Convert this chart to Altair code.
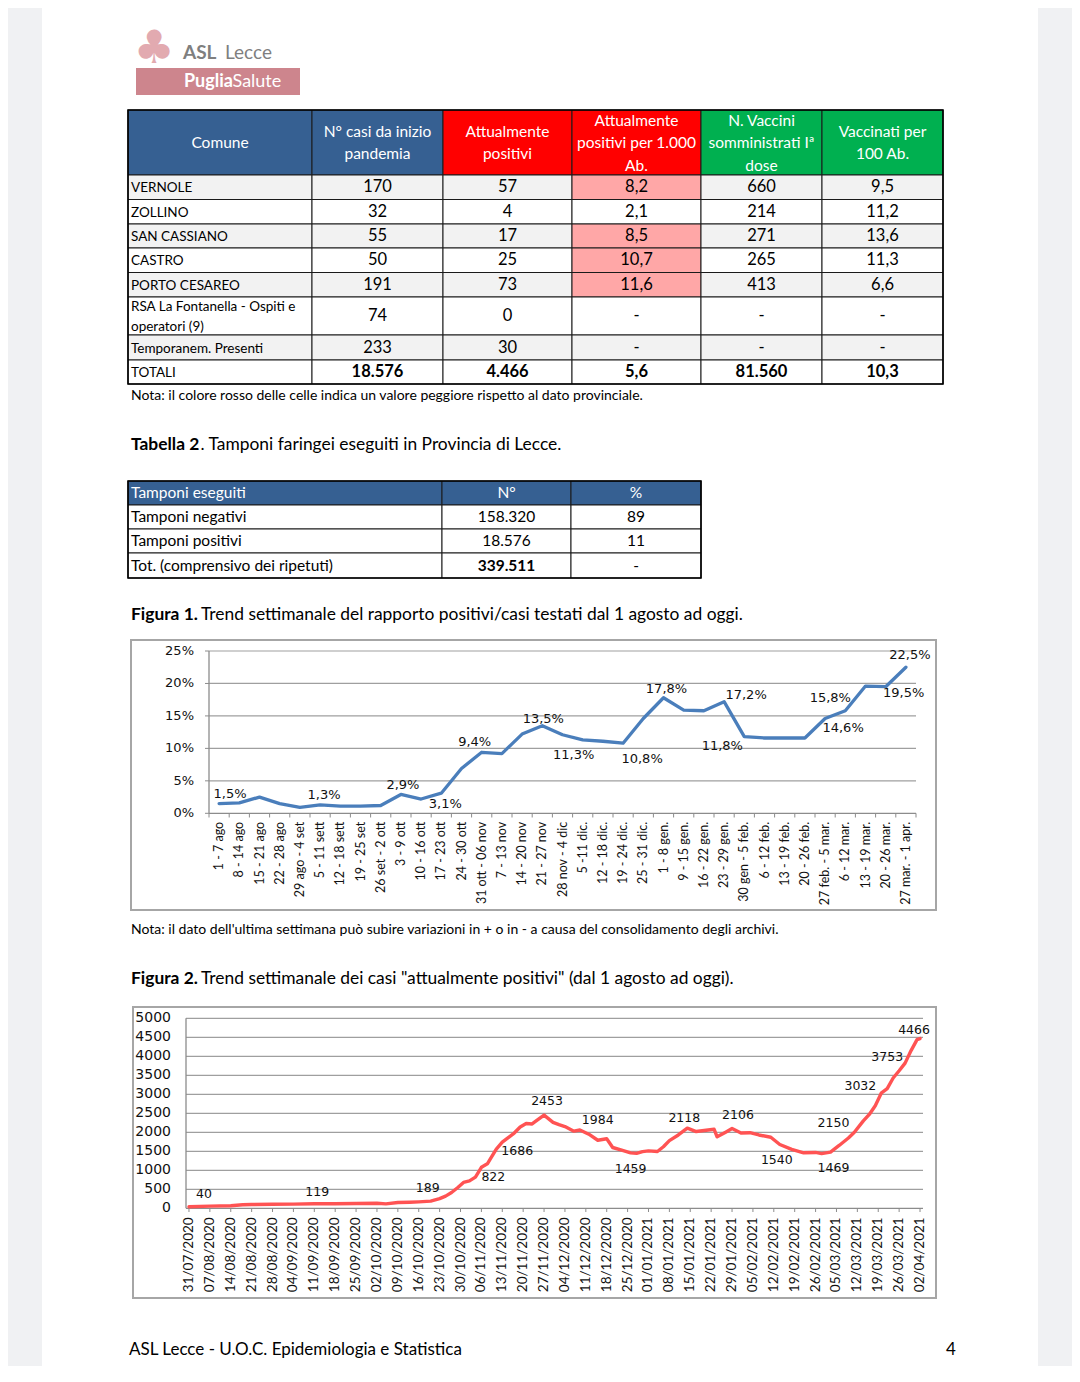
import altair as alt
import pandas as pd

# ======================= DATA =======================
t1_headers = ["Comune", "N° casi da inizio\npandemia", "Attualmente\npositivi",
              "Attualmente\npositivi per 1.000\nAb.", "N. Vaccini\nsomministrati Iª\ndose",
              "Vaccinati per\n100 Ab."]
t1_comuni = ["VERNOLE", "ZOLLINO", "SAN CASSIANO", "CASTRO", "PORTO CESAREO",
             "RSA La Fontanella - Ospiti e\noperatori (9)", "Temporanem. Presenti", "TOTALI"]
t1_casi = ["170", "32", "55", "50", "191", "74", "233", "18.576"]
t1_attuali = ["57", "4", "17", "25", "73", "0", "30", "4.466"]
t1_per1000 = ["8,2", "2,1", "8,5", "10,7", "11,6", "-", "-", "5,6"]
t1_vaccini = ["660", "214", "271", "265", "413", "-", "-", "81.560"]
t1_vacc100 = ["9,5", "11,2", "13,6", "11,3", "6,6", "-", "-", "10,3"]
t1_peggiore = [True, False, True, True, True, False, False, False]

t2_headers = ["Tamponi eseguiti", "N°", "%"]
t2_voci = ["Tamponi negativi", "Tamponi positivi", "Tot. (comprensivo dei ripetuti)"]
t2_numero = ["158.320", "18.576", "339.511"]
t2_perc = ["89", "11", "-"]

fig1_weeks = ["1 - 7 ago", "8 - 14 ago", "15 - 21 ago", "22 - 28 ago", "29 ago - 4 set",
              "5 - 11 sett", "12 - 18 sett", "19 - 25 set", "26 set - 2 ott", "3 - 9 ott",
              "10 - 16 ott", "17 - 23 ott", "24 - 30 ott", "31 ott - 06 nov", "7 - 13 nov",
              "14 - 20 nov", "21 - 27 nov", "28 nov - 4 dic", "5 -11 dic.", "12 - 18 dic.",
              "19 - 24 dic.", "25 - 31 dic.", "1 - 8 gen.", "9 - 15 gen.", "16 - 22 gen.",
              "23 - 29 gen.", "30 gen - 5 feb.", "6 - 12 feb.", "13 - 19 feb.", "20 - 26 feb.",
              "27 feb. - 5 mar.", "6 - 12 mar.", "13 - 19 mar.", "20 - 26 mar.", "27 mar. - 1 apr."]
fig1_values = [1.5, 1.6, 2.5, 1.5, 0.9, 1.3, 1.1, 1.1, 1.2, 2.9,
               2.2, 3.1, 6.9, 9.4, 9.2, 12.2, 13.5, 12.1, 11.3, 11.1,
               10.8, 14.6, 17.8, 15.9, 15.8, 17.2, 11.8, 11.6, 11.6, 11.6,
               14.6, 15.8, 19.6, 19.5, 22.5]
fig1_y_ticks = [0, 5, 10, 15, 20, 25]
fig1_y_labels = ["0%", "5%", "10%", "15%", "20%", "25%"]
fig1_label_idx = [0, 5, 9, 11, 13, 16, 18, 20, 22, 25, 26, 31, 30, 33, 34]
fig1_label_text = ["1,5%", "1,3%", "2,9%", "3,1%", "9,4%", "13,5%", "11,3%", "10,8%",
                   "17,8%", "17,2%", "11,8%", "15,8%", "14,6%", "19,5%", "22,5%"]

fig2_dates = ["2020-07-31", "2020-08-07", "2020-08-14", "2020-08-18", "2020-08-21", "2020-08-28",
              "2020-09-04", "2020-09-11", "2020-09-18", "2020-09-25", "2020-10-02", "2020-10-05",
              "2020-10-09", "2020-10-13", "2020-10-16", "2020-10-20", "2020-10-23", "2020-10-25",
              "2020-10-27", "2020-10-29", "2020-10-31", "2020-11-02", "2020-11-04", "2020-11-06",
              "2020-11-08", "2020-11-09", "2020-11-11", "2020-11-13", "2020-11-15", "2020-11-17",
              "2020-11-19", "2020-11-21", "2020-11-23", "2020-11-24", "2020-11-27", "2020-11-30",
              "2020-12-02", "2020-12-04", "2020-12-07", "2020-12-09", "2020-12-12", "2020-12-15",
              "2020-12-18", "2020-12-20", "2020-12-23", "2020-12-26", "2020-12-28", "2020-12-30",
              "2021-01-01", "2021-01-04", "2021-01-06", "2021-01-08", "2021-01-11", "2021-01-14",
              "2021-01-17", "2021-01-21", "2021-01-23", "2021-01-24", "2021-01-27", "2021-01-29",
              "2021-02-01", "2021-02-04", "2021-02-07", "2021-02-11", "2021-02-14", "2021-02-18",
              "2021-02-22", "2021-02-26", "2021-02-28", "2021-03-03", "2021-03-06", "2021-03-09",
              "2021-03-11", "2021-03-14", "2021-03-16", "2021-03-18", "2021-03-20", "2021-03-22",
              "2021-03-24", "2021-03-26", "2021-03-28", "2021-03-30", "2021-04-01", "2021-04-02"]
fig2_values = [40, 58, 68, 92, 100, 106,
               111, 119, 121, 127, 132, 116,
               152, 160, 170, 189, 255, 320,
               415, 540, 680, 720, 822, 1080,
               1170, 1300, 1560, 1740, 1860, 1980,
               2140, 2230, 2220, 2280, 2453, 2260,
               2200, 2150, 2030, 2060, 1950, 1790,
               1830, 1600, 1530, 1460, 1445, 1490,
               1510, 1495, 1620, 1780, 1930, 2110,
               2020, 2060, 2080, 1880, 2010, 2100,
               1980, 1990, 1930, 1870, 1680, 1550,
               1460, 1470, 1440, 1480, 1660, 1850,
               2000, 2300, 2470, 2700, 3030, 3150,
               3430, 3620, 3820, 4150, 4440, 4466]
fig2_y_ticks = [0, 500, 1000, 1500, 2000, 2500, 3000, 3500, 4000, 4500, 5000]
fig2_tick_labels = ["31/07/2020", "07/08/2020", "14/08/2020", "21/08/2020", "28/08/2020",
                    "04/09/2020", "11/09/2020", "18/09/2020", "25/09/2020", "02/10/2020",
                    "09/10/2020", "16/10/2020", "23/10/2020", "30/10/2020", "06/11/2020",
                    "13/11/2020", "20/11/2020", "27/11/2020", "04/12/2020", "11/12/2020",
                    "18/12/2020", "25/12/2020", "01/01/2021", "08/01/2021", "15/01/2021",
                    "22/01/2021", "29/01/2021", "05/02/2021", "12/02/2021", "19/02/2021",
                    "26/02/2021", "05/03/2021", "12/03/2021", "19/03/2021", "26/03/2021",
                    "02/04/2021"]
fig2_label_dates = ["2020-08-05", "2020-09-12", "2020-10-19", "2020-11-10", "2020-11-18",
                    "2020-11-28", "2020-12-15", "2020-12-26", "2021-01-13", "2021-01-31",
                    "2021-02-13", "2021-03-04", "2021-03-04", "2021-03-13", "2021-03-22",
                    "2021-03-31"]
fig2_label_values = [40, 119, 189, 822, 1686, 2453, 1984, 1459, 2118, 2106, 1540, 1469,
                     2150, 3032, 3753, 4466]

txt_logo_a, txt_logo_b = "ASL", "Lecce"
txt_logo_c, txt_logo_d = "Puglia", "Salute"
txt_nota1 = "Nota: il colore rosso delle celle indica un valore peggiore rispetto al dato provinciale."
txt_tab2_b, txt_tab2 = "Tabella 2", ". Tamponi faringei eseguiti in Provincia di Lecce."
txt_fig1_b, txt_fig1 = "Figura 1.", "Trend settimanale del rapporto positivi/casi testati dal 1 agosto ad oggi."
txt_nota2 = ("Nota: il dato dell'ultima settimana può subire variazioni in + o in - "
             "a causa del consolidamento degli archivi.")
txt_fig2_b, txt_fig2 = "Figura 2.", "Trend settimanale dei casi \"attualmente positivi\" (dal 1 agosto ad oggi)."
txt_footer, txt_page = "ASL Lecce - U.O.C. Epidemiologia e Statistica", "4"

# ======================= LAYOUT / STYLE =======================
FONT = "Lato"
FIG_FONT = "DejaVu Sans"
PAGE_W = 816
SHEET_GREY = "#f0f1f3"
BLUE, RED, GREEN = "#366092", "#ff0000", "#00b050"
T1_COLS = [0, 184, 315, 444, 573, 694, 815]
T1_ROWS = [0, 65, 89.5, 114, 138, 162.5, 187, 225, 250, 274]
T1_HEAD_FILL = [BLUE, BLUE, RED, RED, GREEN, GREEN]
T2_COLS = [0, 314, 443, 573]
T2_ROWS = [0, 24, 48, 72, 97]
FIG1_LABEL_OFFSETS = [(11, -10), (4, -10), (2, -9), (4, 11), (-7, -10), (1, -7), (-9, 15),
                      (19, 16), (3, -9), (22, -7), (-22, 9), (-15, -13), (18, 9), (18, 6), (4, -12)]
FIG2_LABEL_DY = [-13, -12, -13, 0, 7, -14, -13, 16, -10, -13, 10, 16, -4, -7, -9, -9]
F2_START, F2_END = "2020-07-30", "2021-04-03"
GRID = "#9f9f9f"
DOMAIN = "#8c8c8c"
FRAME = "#a6a6a6"
INK = "#111111"
CAPTION = 17.4
PANEL_H = [102, 274, 97, 97, 62, 270, 97, 291, 68]
TOTAL_H = sum(PANEL_H)


def qx(field, W):
    return alt.X(f"{field}:Q", scale=alt.Scale(domain=[0, W], nice=False, zero=False), axis=None)


def qy(field, H):
    return alt.Y(f"{field}:Q", scale=alt.Scale(domain=[0, H], reverse=True, nice=False, zero=False),
                 axis=None)


def text_item(t, x, y, size, bold=False, color="#000000", align="left", font=FONT):
    return alt.Chart(pd.DataFrame({"t": [t]})).mark_text(
        align=align, baseline="middle", font=font, fontSize=size,
        fontWeight="bold" if bold else "normal", color=color
    ).encode(x=alt.value(x), y=alt.value(y), text="t:N")


def box(x0, x1, y0, y1, **style):
    return alt.Chart(pd.DataFrame({"t": [""]})).mark_rect(**style).encode(
        x=alt.value(x0), x2=alt.value(x1), y=alt.value(y0), y2=alt.value(y1))


def dt(s):
    y, m, d = (int(p) for p in s.split("-"))
    return alt.DateTime(year=y, month=m, date=d, utc=True)


def iso(lbl):
    d, m, y = lbl.split("/")
    return f"{y}-{m}-{d}"


# ---------------- Panel 1: white sheet + logo ----------------
p1 = alt.layer(
    box(-86, 910, 0, TOTAL_H, color="#ffffff"),
    text_item("♣", 26, 41, 46, color="#e2aab0", align="center", font="DejaVu Sans"),
    text_item(txt_logo_a, 55, 45, 19, bold=True, color="#7f7f7f"),
    text_item(txt_logo_b, 97, 45, 19, color="#7f7f7f"),
    box(8, 172, 60, 87, color="#cd858d"),
    text_item(txt_logo_c, 56, 74, 18, bold=True, color="#ffffff"),
    text_item(txt_logo_d, 104.5, 74, 18, color="#ffffff"),
).properties(width=PAGE_W, height=PANEL_H[0])


# ---------------- helpers for tables ----------------
def table_text(rows, W, H, size, align="center", bold=False, color="#000000", lh=20):
    df = pd.DataFrame(rows)
    # first line position so that the block of lines is centred in its cell
    df["ty"] = [ty - (t.count("\n")) * lh / 2 for ty, t in zip(df["ty"], df["t"])]
    return alt.Chart(df).mark_text(
        align=align, baseline="middle", font=FONT, fontSize=size, lineBreak="\n",
        lineHeight=lh, fontWeight="bold" if bold else "normal", color=color
    ).encode(x=qx("tx", W), y=qy("ty", H), text="t:N")


def cell_layer(rows, W, H):
    return alt.Chart(pd.DataFrame(rows)).mark_rect(stroke="#1a1a1a", strokeWidth=1).encode(
        x=qx("x0", W), x2="x1:Q", y=qy("y0", H), y2="y1:Q", fill=alt.Fill("fill:N", scale=None))


def frame_layer(x1, y1, W, H):
    return alt.Chart(pd.DataFrame({"x0": [0], "x1": [x1], "y0": [0], "y1": [y1]})).mark_rect(
        fillOpacity=0, stroke="#000000", strokeWidth=1.6).encode(
        x=qx("x0", W), x2="x1:Q", y=qy("y0", H), y2="y1:Q")


# ---------------- Panel 2: table 1 ----------------
H2 = T1_ROWS[-1]
cols1 = [t1_comuni, t1_casi, t1_attuali, t1_per1000, t1_vaccini, t1_vacc100]
cells, head, labels, nums, tots = [], [], [], [], []
for c in range(6):
    x0, x1 = T1_COLS[c], T1_COLS[c + 1]
    cells.append(dict(x0=x0, x1=x1, y0=T1_ROWS[0], y1=T1_ROWS[1], fill=T1_HEAD_FILL[c]))
    head.append(dict(tx=(x0 + x1) / 2, ty=(T1_ROWS[0] + T1_ROWS[1]) / 2 + 0.5, t=t1_headers[c]))
for r in range(8):
    y0, y1 = T1_ROWS[r + 1], T1_ROWS[r + 2]
    base = "#f2f2f2" if r % 2 == 0 else "#ffffff"
    for c in range(6):
        x0, x1 = T1_COLS[c], T1_COLS[c + 1]
        fill = "#ffa7a7" if (c == 3 and t1_peggiore[r]) else base
        cells.append(dict(x0=x0, x1=x1, y0=y0, y1=y1, fill=fill))
        val = cols1[c][r]
        if c == 0:
            labels.append(dict(tx=x0 + 3, ty=(y0 + y1) / 2 + 1, t=val))
        elif r == 7:
            tots.append(dict(tx=(x0 + x1) / 2, ty=(y0 + y1) / 2, t=val))
        else:
            nums.append(dict(tx=(x0 + x1) / 2, ty=(y0 + y1) / 2, t=val))

p2 = alt.layer(
    cell_layer(cells, PAGE_W, H2),
    frame_layer(T1_COLS[-1], H2, PAGE_W, H2),
    table_text(head, PAGE_W, H2, 15.5, color="#ffffff", lh=22.5),
    table_text(labels, PAGE_W, H2, 13.5, align="left", lh=20),
    table_text(nums, PAGE_W, H2, 16.5),
    table_text(tots, PAGE_W, H2, 16.5, bold=True),
).properties(width=PAGE_W, height=PANEL_H[1])

# ---------------- Panel 3: note + table 2 title ----------------
p3 = alt.layer(
    text_item(txt_nota1, 3, 12, 14),
    text_item(txt_tab2_b, 3, 61, CAPTION, bold=True),
    text_item(txt_tab2, 72.5, 61, CAPTION),
).properties(width=PAGE_W, height=PANEL_H[2])

# ---------------- Panel 4: table 2 ----------------
H4 = T2_ROWS[-1]
cells2, head2l, head2c, lab2, num2, bold2 = [], [], [], [], [], []
for c in range(3):
    x0, x1 = T2_COLS[c], T2_COLS[c + 1]
    cells2.append(dict(x0=x0, x1=x1, y0=T2_ROWS[0], y1=T2_ROWS[1], fill=BLUE))
    ty = (T2_ROWS[0] + T2_ROWS[1]) / 2
    if c == 0:
        head2l.append(dict(tx=x0 + 3, ty=ty, t=t2_headers[c]))
    else:
        head2c.append(dict(tx=(x0 + x1) / 2, ty=ty, t=t2_headers[c]))
cols2 = [t2_voci, t2_numero, t2_perc]
for r in range(3):
    y0, y1 = T2_ROWS[r + 1], T2_ROWS[r + 2]
    for c in range(3):
        x0, x1 = T2_COLS[c], T2_COLS[c + 1]
        cells2.append(dict(x0=x0, x1=x1, y0=y0, y1=y1, fill="#ffffff"))
        val = cols2[c][r]
        if c == 0:
            lab2.append(dict(tx=x0 + 3, ty=(y0 + y1) / 2, t=val))
        elif r == 2 and c == 1:
            bold2.append(dict(tx=(x0 + x1) / 2, ty=(y0 + y1) / 2, t=val))
        else:
            num2.append(dict(tx=(x0 + x1) / 2, ty=(y0 + y1) / 2, t=val))

p4 = alt.layer(
    cell_layer(cells2, PAGE_W, H4),
    frame_layer(T2_COLS[-1], H4, PAGE_W, H4),
    table_text(head2l, PAGE_W, H4, 15.5, align="left", color="#ffffff"),
    table_text(head2c, PAGE_W, H4, 15.5, color="#ffffff"),
    table_text(lab2, PAGE_W, H4, 15.5, align="left"),
    table_text(num2, PAGE_W, H4, 15.5),
    table_text(bold2, PAGE_W, H4, 15.5, bold=True),
).properties(width=PAGE_W, height=PANEL_H[3])

# ---------------- Panel 5: figure 1 title ----------------
p5 = alt.layer(
    text_item(txt_fig1_b, 3, 37, CAPTION, bold=True),
    text_item(txt_fig1, 73, 37, CAPTION),
).properties(width=PAGE_W, height=PANEL_H[4])

# ---------------- Panel 6: figure 1 ----------------
F1_W, F1_H = 808, PANEL_H[5]
n1 = len(fig1_weeks)
X1 = alt.Scale(domain=[-0.5, n1 - 0.5], range=[81, 788], nice=False, zero=False)
Y1 = alt.Scale(domain=[0, 25], range=[173.3, 11], nice=False, zero=False)


def ex1(f):
    return alt.X(f, scale=X1, axis=None)


def ey1(f):
    return alt.Y(f, scale=Y1, axis=None)


f1 = pd.DataFrame({"i": list(range(n1)), "v": fig1_values})
grid1 = pd.DataFrame({"g": fig1_y_ticks[1:], "x0": -0.5, "x1": n1 - 0.5})
dom1 = pd.DataFrame({"x0": [-0.5, -0.5], "x1": [-0.5, n1 - 0.5], "y0": [0, 0], "y1": [25, 0]})
bticks1 = pd.DataFrame({"b": [k - 0.5 for k in range(n1 + 1)], "y0": 0})
yl1 = pd.DataFrame({"g": fig1_y_ticks, "x": -0.5, "t": fig1_y_labels})
xl1 = pd.DataFrame({"i": list(range(n1)), "y0": 0, "t": fig1_weeks})

f1_layers = [
    box(3, F1_W, 0, F1_H, fillOpacity=0, stroke=FRAME, strokeWidth=2),
    alt.Chart(grid1).mark_rule(color=GRID, strokeWidth=1.2).encode(
        x=ex1("x0:Q"), x2="x1:Q", y=ey1("g:Q")),
    alt.Chart(dom1).mark_rule(color=DOMAIN, strokeWidth=1.3).encode(
        x=ex1("x0:Q"), x2="x1:Q", y=ey1("y0:Q"), y2="y1:Q"),
    alt.Chart(bticks1).mark_rule(color=DOMAIN, strokeWidth=1).encode(
        x=ex1("b:Q"), y=ey1("y0:Q"), y2=alt.value(177.5)),
    alt.Chart(yl1).mark_rule(color=DOMAIN, strokeWidth=1).encode(
        x=ex1("x:Q"), x2=alt.value(77), y=ey1("g:Q")),
    alt.Chart(yl1).mark_text(align="right", baseline="middle", dx=-15, font=FIG_FONT, fontSize=13,
                             color=INK).encode(x=ex1("x:Q"), y=ey1("g:Q"), text="t:N"),
    alt.Chart(xl1).mark_text(angle=270, align="right", baseline="middle", dx=-8.5, font=FONT,
                             fontSize=12.5, color=INK).encode(x=ex1("i:Q"), y=ey1("y0:Q"), text="t:N"),
    alt.Chart(f1).mark_line(color="#4a7ebb", strokeWidth=3.3, strokeJoin="round", strokeCap="round").encode(
        x=ex1("i:Q"), y=ey1("v:Q")),
]
for k, (idx, txt) in enumerate(zip(fig1_label_idx, fig1_label_text)):
    dx, dy = FIG1_LABEL_OFFSETS[k]
    f1_layers.append(
        alt.Chart(pd.DataFrame({"i": [idx], "v": [fig1_values[idx]], "t": [txt]})).mark_text(
            dx=dx, dy=dy, font=FIG_FONT, fontSize=13, color=INK, baseline="middle"
        ).encode(x=ex1("i:Q"), y=ey1("v:Q"), text="t:N"))
p6 = alt.layer(*f1_layers).properties(width=F1_W, height=F1_H)

# ---------------- Panel 7: note + figure 2 title ----------------
p7 = alt.layer(
    text_item(txt_nota2, 3, 20, 14),
    text_item(txt_fig2_b, 3, 69, CAPTION, bold=True),
    text_item(txt_fig2, 73, 69, CAPTION),
).properties(width=PAGE_W, height=PANEL_H[6])

# ---------------- Panel 8: figure 2 ----------------
F2_W, F2_H = 808, PANEL_H[7]
X2 = alt.Scale(type="utc", domain=[dt(F2_START), dt(F2_END)], range=[58, 795], nice=False)
Y2 = alt.Scale(domain=[0, 5000], range=[201.3, 11.3], nice=False, zero=False)


def ex2(f):
    return alt.X(f, scale=X2, axis=None)


def ey2(f):
    return alt.Y(f, scale=Y2, axis=None)


f2 = pd.DataFrame({"d": fig2_dates, "v": fig2_values})
grid2 = pd.DataFrame({"g": fig2_y_ticks[1:], "d0": F2_START, "d1": F2_END})
dom2 = pd.DataFrame({"d0": [F2_START, F2_START], "d1": [F2_START, F2_END],
                     "y0": [0, 0], "y1": [5000, 0]})
yl2 = pd.DataFrame({"g": fig2_y_ticks, "d": F2_START, "t": [str(g) for g in fig2_y_ticks]})
xl2 = pd.DataFrame({"d": [iso(s) for s in fig2_tick_labels], "y0": 0, "t": fig2_tick_labels})

f2_layers = [
    box(5, F2_W, 0, F2_H, fillOpacity=0, stroke=FRAME, strokeWidth=2),
    alt.Chart(grid2).mark_rule(color=GRID, strokeWidth=1.2).encode(
        x=ex2("d0:T"), x2="d1:T", y=ey2("g:Q")),
    alt.Chart(dom2).mark_rule(color=DOMAIN, strokeWidth=1.3).encode(
        x=ex2("d0:T"), x2="d1:T", y=ey2("y0:Q"), y2="y1:Q"),
    alt.Chart(xl2).mark_rule(color=DOMAIN, strokeWidth=1).encode(
        x=ex2("d:T"), y=ey2("y0:Q"), y2=alt.value(205)),
    alt.Chart(yl2).mark_text(align="right", baseline="middle", dx=-15, font=FIG_FONT, fontSize=14,
                             color=INK).encode(x=ex2("d:T"), y=ey2("g:Q"), text="t:N"),
    alt.Chart(xl2).mark_text(angle=270, align="right", baseline="middle", dx=-9, font=FONT,
                             fontSize=13.5, color=INK).encode(x=ex2("d:T"), y=ey2("y0:Q"), text="t:N"),
    alt.Chart(f2).mark_line(color="#ff5353", strokeWidth=3.4, strokeJoin="round", strokeCap="round").encode(
        x=ex2("d:T"), y=ey2("v:Q")),
]
for k, (d, v) in enumerate(zip(fig2_label_dates, fig2_label_values)):
    f2_layers.append(
        alt.Chart(pd.DataFrame({"d": [d], "v": [v], "t": [str(v)]})).mark_text(
            dy=FIG2_LABEL_DY[k], font=FIG_FONT, fontSize=12.5, color=INK, baseline="middle"
        ).encode(x=ex2("d:T"), y=ey2("v:Q"), text="t:N"))
p8 = alt.layer(*f2_layers).properties(width=F2_W, height=F2_H)

# ---------------- Panel 9: footer ----------------
p9 = alt.layer(
    text_item(txt_footer, 1, 52, 17),
    text_item(txt_page, 818, 52, 17),
).properties(width=PAGE_W, height=PANEL_H[8])

chart = alt.vconcat(p1, p2, p3, p4, p5, p6, p7, p8, p9, spacing=0, bounds="flush").properties(
    padding={"left": 34, "top": 0, "right": 34, "bottom": 0}, background=SHEET_GREY
).configure_view(strokeOpacity=0).configure_concat(spacing=0)

chart.save("out.html", embed_options={"renderer": "svg", "actions": False})
